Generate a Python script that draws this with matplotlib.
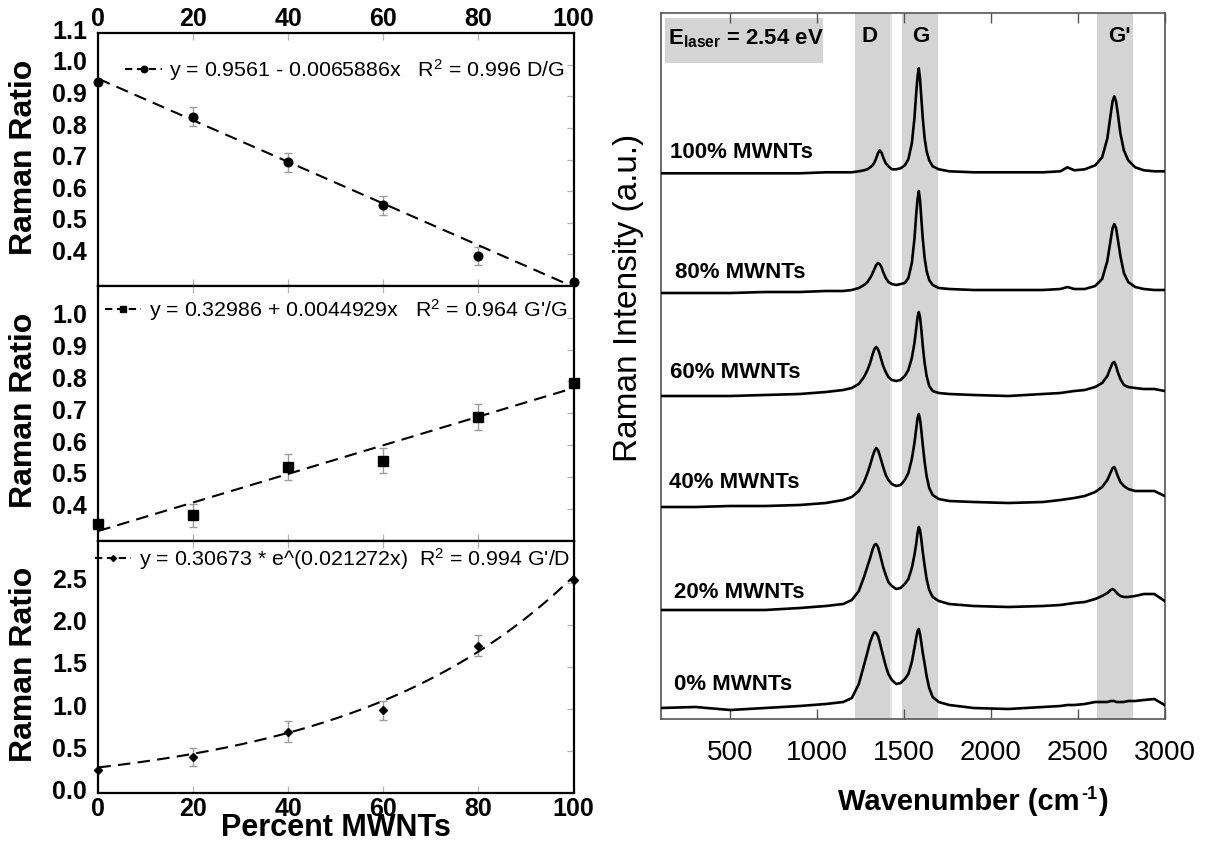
import numpy as np
import matplotlib
matplotlib.use("Agg")
import matplotlib.pyplot as plt
from matplotlib.lines import Line2D
from matplotlib.patches import Rectangle
from matplotlib.transforms import ScaledTranslation

plt.rcParams['font.family'] = ['Liberation Sans', 'DejaVu Sans']
plt.rcParams['mathtext.fontset'] = 'custom'
plt.rcParams['mathtext.rm'] = 'Liberation Sans'
plt.rcParams['mathtext.it'] = 'Liberation Sans:italic'
plt.rcParams['mathtext.bf'] = 'Liberation Sans:bold'

nan = np.nan

# ---------------- Raman ratios vs. MWNT content ----------------
percent = [0, 20, 40, 60, 80, 100]

dg_ratio = [0.947, 0.836, 0.691, 0.556, 0.395, 0.313]
dg_err = [nan, 0.03, 0.03, 0.03, 0.03, nan]

gpg_ratio = [0.353, 0.379, 0.531, 0.551, 0.689, 0.795]
gpg_err = [nan, 0.035, 0.042, 0.04, 0.041, nan]

gpd_ratio = [0.277, 0.43, 0.733, 0.983, 1.753, 2.53]
gpd_err = [nan, 0.11, 0.12, 0.11, 0.12, nan]

# fit coefficients quoted in the legends
dg_fit = (0.9561, -0.0065886)      # linear
gpg_fit = (0.32986, 0.0044929)     # linear
gpd_fit = (0.30673, 0.021272)      # exponential

dg_label = "y = 0.9561 - 0.0065886x   R$^2$ = 0.996 D/G"
gpg_label = "y = 0.32986 + 0.0044929x   R$^2$ = 0.964 G'/G"
gpd_label = "y = 0.30673 * e^(0.021272x)  R$^2$ = 0.994 G'/D"

percent_ticks = [0, 20, 40, 60, 80, 100]
top_yticks = [0.4, 0.5, 0.6, 0.7, 0.8, 0.9, 1.0, 1.1]
mid_yticks = [0.4, 0.5, 0.6, 0.7, 0.8, 0.9, 1.0]
bot_yticks = [0.0, 0.5, 1.0, 1.5, 2.0, 2.5]

# ---------------- Raman spectra ----------------
wavenumber = [100, 300, 500, 700, 900, 1050, 1150, 1200, 1240, 1270,
              1290, 1305, 1320, 1330, 1340, 1350, 1360, 1370, 1380, 1395,
              1410, 1430, 1455, 1480, 1505, 1525, 1545, 1560, 1570, 1578,
              1585, 1592, 1600, 1608, 1618, 1630, 1645, 1665, 1700, 1760,
              1900, 2100, 2300, 2400, 2440, 2480, 2540, 2600, 2640, 2670,
              2690, 2700, 2710, 2720, 2730, 2745, 2765, 2790, 2830, 2880,
              2940, 3000]

spec_0 = [0, 1, -2, 0, 2, 4, 6, 10, 24, 43,
          56, 66, 73, 76, 75, 72, 66, 59, 52, 42,
          34, 28, 24, 25, 29, 34, 46, 60, 70, 77,
          79, 74, 65, 55, 45, 32, 20, 11, 6, 3,
          0, -1, 1, 2, 3, 3, 4, 6, 6, 6,
          7, 7, 7, 6, 6, 6, 6, 7, 7, 8,
          9, 3]

spec_20 = [0, 0, 0, 0, 2, 4, 6, 10, 19, 33,
           44, 52, 61, 65, 66, 63, 57, 50, 43, 35,
           28, 24, 21, 22, 26, 31, 42, 55, 66, 77,
           83, 80, 70, 58, 45, 31, 20, 13, 9, 6,
           4, 3, 4, 5, 6, 7, 8, 11, 14, 17,
           20, 21, 20, 18, 16, 14, 13, 13, 14, 16,
           16, 9]

spec_40 = [0, 0, 1, 1, 2, 4, 7, 10, 16, 25,
           34, 42, 51, 56, 59, 57, 52, 46, 40, 32,
           27, 23, 21, 22, 27, 34, 48, 64, 78, 89,
           93, 88, 76, 62, 46, 31, 19, 12, 8, 6,
           5, 4, 5, 7, 8, 9, 11, 15, 20, 27,
           35, 39, 40, 36, 31, 25, 21, 18, 16, 16,
           16, 11]

spec_60 = [0, 0, 0, 1, 2, 4, 6, 8, 12, 19,
           26, 33, 42, 47, 49, 47, 42, 36, 30, 24,
           19, 16, 15, 16, 20, 26, 38, 53, 67, 79,
           84, 79, 66, 50, 34, 20, 10, 5, 3, 2,
           1, 0, 2, 3, 4, 5, 6, 9, 13, 20,
           29, 33, 34, 30, 24, 17, 11, 9, 8, 7,
           7, 5]

spec_80 = [0, 0, 0, 1, 1, 2, 2, 3, 5, 8,
           11, 15, 20, 24, 28, 30, 29, 26, 21, 15,
           11, 9, 8, 9, 10, 15, 30, 54, 78, 94,
           102, 93, 73, 54, 36, 22, 13, 8, 5, 4,
           3, 3, 3, 4, 6, 4, 4, 7, 14, 32,
           54, 65, 69, 65, 54, 37, 20, 11, 6, 4,
           3, 3]

spec_100 = [0, 0, 0, 0, 0, 1, 1, 1, 2, 3,
            4, 6, 8, 11, 15, 20, 23, 21, 16, 10,
            7, 4, 4, 5, 8, 14, 30, 55, 80, 97,
            105, 95, 75, 55, 36, 22, 13, 7, 4, 2,
            1, 1, 1, 2, 6, 3, 4, 8, 16, 35,
            60, 72, 77, 72, 60, 40, 23, 13, 6, 3,
            2, 2]

spectra = [spec_0, spec_20, spec_40, spec_60, spec_80, spec_100]
spectra_labels = ["0% MWNTs", "20% MWNTs", "40% MWNTs",
                  "60% MWNTs", "80% MWNTs", "100% MWNTs"]

band_ranges = [(1220, 1420), (1490, 1695), (2613, 2820)]
band_names = ["D", "G", "G'"]

wn_ticks = [500, 1000, 1500, 2000, 2500, 3000]

# ================= figure =================
W, H = 1208, 844
fig = plt.figure(figsize=(W / 100, H / 100), dpi=100)


def fig_rect(x0, y0, x1, y1):
    """pixel box (top-left origin) -> figure fraction rect"""
    return [x0 / W, 1 - y1 / H, (x1 - x0) / W, (y1 - y0) / H]


ax_top = fig.add_axes(fig_rect(98.3, 33.3, 573.5, 286))
ax_mid = fig.add_axes(fig_rect(98.3, 286, 573.5, 540.5))
ax_bot = fig.add_axes(fig_rect(98.3, 540.5, 573.5, 793.3))

tick_grey = '#b4b4b4'
dash = (0, (6, 3.5))
xs = np.linspace(0, 100, 300)


def style_ratio_axis(ax, yticks, ylim, ylabels_fmt):
    ax.set_xlim(0, 100)
    ax.set_ylim(*ylim)
    for s in ax.spines.values():
        s.set_linewidth(1.6)
        s.set_color('black')
    ax.set_xticks(percent_ticks, labels=[str(t) for t in percent_ticks],
                  fontsize=18, fontweight='bold')
    ax.set_yticks(yticks, labels=[ylabels_fmt.format(t) for t in yticks],
                  fontsize=18, fontweight='bold')
    ax.tick_params(axis='x', direction='in', top=True, bottom=True,
                   length=5, width=0.9, color=tick_grey,
                   labelbottom=False, labeltop=False, pad=2)
    ax.tick_params(axis='y', direction='in', left=False, right=True,
                   length=5, width=0.9, color=tick_grey, pad=8)
    shift = ScaledTranslation(0, 4 / 100, fig.dpi_scale_trans)
    for lbl in ax.get_yticklabels():
        lbl.set_transform(lbl.get_transform() + shift)


def draw_ratio(ax, y, err, marker, ms, curve, label, anchor):
    ax.errorbar(percent, y, yerr=err, fmt='none', ecolor='#9c9c9c',
                elinewidth=1.0, capsize=3, capthick=1.0, zorder=2)
    ax.plot(xs, curve, color='black', lw=1.5, ls=dash, zorder=3)
    ax.plot(percent, y, ls='none', marker=marker, ms=ms, color='black',
            clip_on=False, zorder=4)
    handle = Line2D([], [], color='black', lw=1.5, ls=(0, (3.5, 2.2)),
                    marker=marker, ms=ms * 0.75)
    ax.legend([handle], [label], loc='center right', bbox_to_anchor=anchor,
              frameon=False, fontsize=15.4, handlelength=1.7,
              handletextpad=0.35, borderpad=0, borderaxespad=0)


# D/G
style_ratio_axis(ax_top, top_yticks, (0.3, 1.1), '{:.1f}')
ax_top.tick_params(axis='x', labeltop=True)
draw_ratio(ax_top, dg_ratio, dg_err, 'o', 6.2,
           dg_fit[0] + dg_fit[1] * xs, dg_label, (0.982, 0.855))

# G'/G
style_ratio_axis(ax_mid, mid_yticks, (0.3, 1.1), '{:.1f}')
draw_ratio(ax_mid, gpg_ratio, gpg_err, 's', 6.5,
           gpg_fit[0] + gpg_fit[1] * xs, gpg_label, (0.986, 0.906))

# G'/D
style_ratio_axis(ax_bot, bot_yticks, (0.0, 3.0), '{:.1f}')
ax_bot.tick_params(axis='x', labelbottom=True, pad=3)
draw_ratio(ax_bot, gpd_ratio, gpd_err, 'D', 4.0,
           gpd_fit[0] * np.exp(gpd_fit[1] * xs), gpd_label, (0.993, 0.927))

for yc in (157, 410, 664):
    fig.text(24 / W, 1 - yc / H, 'Raman Ratio', rotation=90, ha='center',
             va='center', fontsize=23, fontweight='bold')
fig.text(336 / W, 1 - 828 / H, 'Percent MWNTs', ha='center', va='center',
         fontsize=22, fontweight='bold')

# ---------------- spectra panel ----------------
ax_r = fig.add_axes(fig_rect(660.7, 13.3, 1164.7, 719))
ax_r.set_xlim(100, 3000)
ax_r.set_ylim(0, 705.7)
band_grey = '#d4d4d4'
for lo, hi in band_ranges:
    ax_r.axvspan(lo, hi, color=band_grey, lw=0, zorder=0)
ax_r.axvspan(1420, 1432, color='#e6e6e6', lw=0, zorder=0)

# vertical stacking of the traces
offsets = [11, 109, 212, 323, 426, 545.7]
label_dy = [23, 18, 24, 23, 20, 21]
label_x = [175, 175, 148, 153, 182, 153]
for vals, off, name, dy, lx in zip(spectra, offsets, spectra_labels,
                                   label_dy, label_x):
    ax_r.plot(wavenumber, np.asarray(vals) + off, color='black', lw=1.9,
              zorder=3)
    ax_r.text(lx, off + dy, name, ha='left', va='center', fontsize=16,
              fontweight='bold')

ax_r.add_patch(Rectangle((125, 655.7), 911, 45, color=band_grey, lw=0,
                         zorder=1))
ax_r.text(142, 680, r'$\mathbf{E}_{\mathbf{laser}}$ = 2.54 eV', ha='left',
          va='center', fontsize=16, fontweight='bold', zorder=4)
for name, xpos in zip(band_names, [1301, 1596, 2741]):
    ax_r.text(xpos, 682, name, ha='center', va='center', fontsize=16,
              fontweight='bold')

ax_r.set_yticks([])
ax_r.set_xticks(wn_ticks, labels=[str(t) for t in wn_ticks])
ax_r.tick_params(axis='x', direction='in', top=True, bottom=True, length=7,
                 width=1.0, color='#555555', labelsize=20, pad=15)
for s in ax_r.spines.values():
    s.set_linewidth(1.2)
    s.set_color('#555555')

fig.text(628 / W, 1 - 297.5 / H, 'Raman Intensity (a.u.)', rotation=90,
         ha='center', va='center', fontsize=24)

# x label built from three pieces so the superscript reads "-1"
renderer = fig.canvas.get_renderer()
y_base = 1 - 810 / H
parts = [('Wavenumber (cm', 21, 0.0), ('-1', 13, 11.0), (')', 21, 0.0)]
pieces = []
for txt, size, rise in parts:
    t = fig.text(0, y_base + rise / H, txt, ha='left', va='baseline',
                 fontsize=size, fontweight='bold')
    pieces.append(t)
widths = [p.get_window_extent(renderer).width for p in pieces]
gaps = [0, 1, 1]
total = sum(widths) + sum(gaps)
x = 973 - total / 2
for p, w, g in zip(pieces, widths, gaps):
    x += g
    p.set_x(x / W)
    x += w

fig.savefig('out.png', dpi=100)
